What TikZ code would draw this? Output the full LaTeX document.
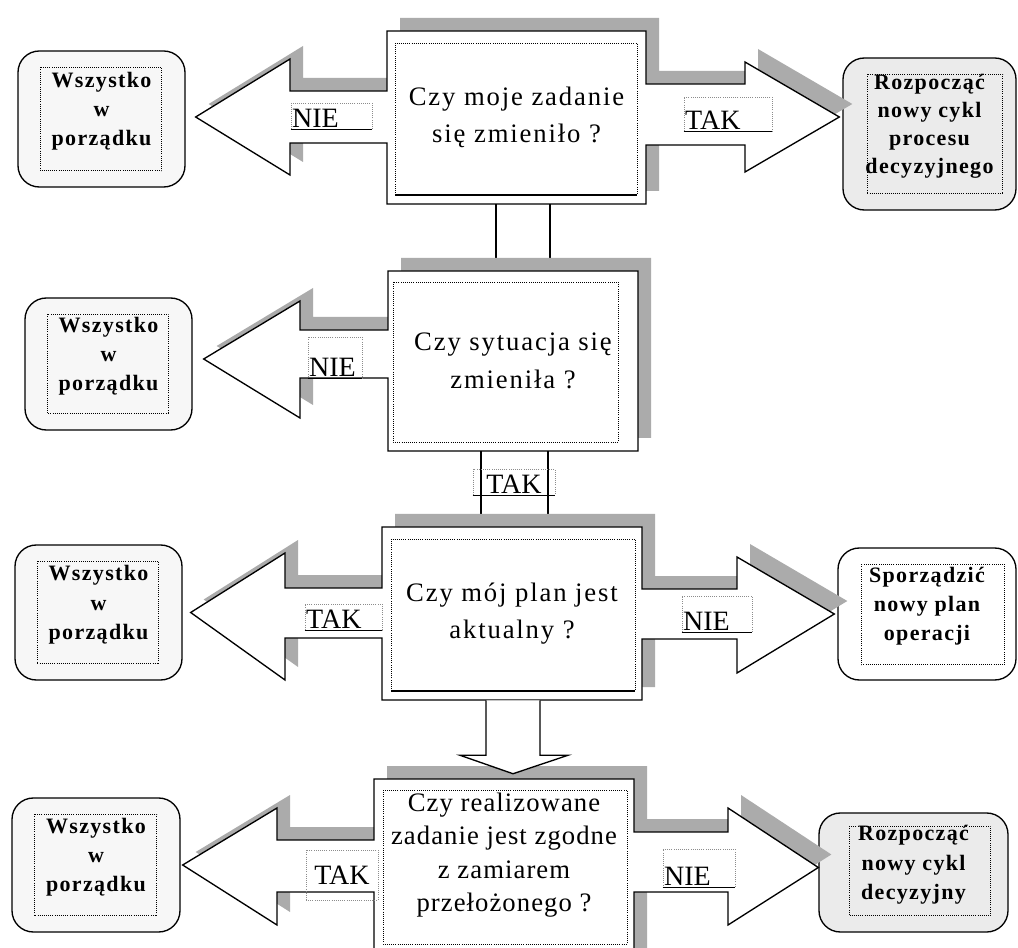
\documentclass[tikz,border=0pt]{standalone}
\usepackage{fontspec}
\setmainfont{Liberation Serif}
\newfontfamily\qfont[LetterSpace=7]{Liberation Serif}
\newfontfamily\qfontb[LetterSpace=4]{Liberation Serif}
\newfontfamily\bxfont[LetterSpace=6]{Liberation Serif}
\usetikzlibrary{
  	positioning,
  	calc,
  	fit,
		shadows
  }
\tikzset{
  qarea/.style={inner sep=0pt},
  qshape/.style={draw,line width=1pt,fill=white,
    drop shadow={shadow xshift=9.75pt,shadow yshift=9.75pt,opacity=1,fill=black!33}},
  qtext/.style={inner sep=0pt,align=center,font=\qfont\fontsize{20}{28}\selectfont},
  okbox/.style={draw,line width=1pt,rounded corners=16pt,inner sep=0pt,fill=black!3,
    align=center,font=\bxfont\bfseries\fontsize{16.5}{22}\selectfont},
  indot/.style={densely dotted,line width=0.6pt},
  lblframe/.style={draw=black!45,densely dotted,line width=0.6pt,inner sep=0pt},
  lbltxt/.style={inner sep=1pt,font=\fontsize{21}{24}\selectfont},
  uline/.style={line width=1pt},
  conn/.style={line width=1pt}
}

\begin{document}
\begin{tikzpicture}[x=0.75pt,y=-0.75pt]
    \useasboundingbox (0,0) rectangle (1018,948);
    % question areas (anchors only)
    \node[qarea,fit={(387,31) (646,204)}] (q1) {};
    \node[qarea,fit={(388,271) (638,451)}] (q2) {};
    \node[qarea,fit={(382,527) (642,700)}] (q3) {};
    \node[qarea,fit={(374,779) (634,931)}] (q4) {};

    % outcome boxes
    \node[okbox,fit={(18,51) (185,187)}] (ok1) {Wszystko\\w\\porządku};
    \node[okbox,fit={(25,298) (192,430)}] (ok2) {Wszystko\\w\\porządku};
    \node[okbox,fit={(15,545) (182,680)}] (ok3) {Wszystko\\w\\porządku};
    \node[okbox,fit={(12,798) (180,932)}] (ok4) {Wszystko\\w\\porządku};
    \node[okbox,fill=black!8,font=\bxfont\bfseries\fontsize{16.5}{21}\selectfont,
      fit={(843,58) (1016,210)}] (new1) {Rozpocząć\\nowy cykl\\procesu\\decyzyjnego};
    \node[okbox,fill=white,fit={(838,548) (1016,680)}] (plan3) {Sporządzić\\nowy plan\\operacji};
    \node[okbox,fill=black!8,fit={(819,813) (1008,932)}] (new4) {Rozpocząć\\nowy cykl\\decyzyjny};
    \foreach \n in {ok1,ok2,ok3,ok4}
      \draw[indot] ($(\n.north west)+(23,17)$) rectangle ($(\n.south east)+(-24,-17)$);
    \draw[indot] ($(new1.north west)+(25,17)$) rectangle ($(new1.south east)+(-14,-17)$);
    \draw[indot] ($(plan3.north west)+(24,17)$) rectangle ($(plan3.south east)+(-12,-16)$);
    \draw[indot] ($(new4.north west)+(31,14)$) rectangle ($(new4.south east)+(-18,-17)$);

    % arrow tips
    \coordinate (t1l) at ($(ok1.east)+(10,-2)$);
    \coordinate (t1r) at ($(new1.west)+(-3,-17)$);
    \coordinate (t2l) at ($(ok2.east)+(11,-5)$);
    \coordinate (t3l) at ($(ok3.east)+(8,0)$);
    \coordinate (t3r) at ($(plan3.west)+(-3,0)$);
    \coordinate (t4l) at ($(ok4.east)+(2,0)$);
    \coordinate (t4r) at ($(new4.west)+(0,-5)$);

    % row 1
    \draw[qshape] (387,31) -| (646,84) -| (745,62) -- (t1r) -- (745,172) |- (646,145)
       |- (387,204) |- (290,143) -- (290,175) -- (t1l) -- (290,59) |- (387,91) -- cycle;
    \draw[indot] (395,195) -- (395,43) -- (637,43) -- (637,195);
    \draw[uline] (395,195) -- (637,195);
    \node[qtext] (q1t) at (q1) {Czy moje zadanie\\się zmieniło ?};
    \node[lblframe,fit={(291,103) (372,129)}] (f1l) {};
    \node[lbltxt,anchor=south west] (nie1) at (f1l.south west) {NIE};
    \draw[uline] (f1l.south west) -- (f1l.south east);
    \node[lblframe,fit={(684,97) (772,131)}] (f1r) {};
    \node[lbltxt,anchor=south west] (tak1) at (f1r.south west) {TAK};
    \draw[uline] (f1r.south west) -- (f1r.south east);

    % 1 -> 2
    \coordinate (c12l) at ($(q1.south)+(-20.5,0)$);
    \coordinate (c12r) at ($(q1.south)+(33.5,0)$);
    \draw[conn] (c12l) -- (c12l |- q2.north);
    \draw[conn] (c12r) -- (c12r |- q2.north);

    % row 2
    \draw[qshape] (388,271) -- (638,271) -- (638,451) -- (388,451) |- (300,378)
       -- (300,418) -- (t2l) -- (300,301) |- (388,330) -- cycle;
    \draw[indot] (393,282) rectangle (618,442);
    \node[qtext] (q2t) at (q2) {Czy sytuacja się\\zmieniła ?};
    \node[lblframe,fit={(308,337) (362,378)}] (f2l) {};
    \node[lbltxt,anchor=south west] (nie2) at (f2l.south west) {NIE};
    \draw[uline] (f2l.south west) -- (f2l.south east);

    % 2 -> 3
    \coordinate (c23l) at ($(q2.south)+(-32,0)$);
    \coordinate (c23r) at ($(q2.south)+(35,0)$);
    \draw[conn] (c23l) -- (c23l |- q3.north);
    \draw[conn] (c23r) -- (c23r |- q3.north);
    \node[lblframe,fit={(473,469) (555,495)}] (f23) {};
    \node[lbltxt,anchor=south] (tak23) at (f23.south) {TAK};
    \draw[uline] (f23.south west) -- (f23.south east);

    % row 3
    \draw[qshape] (382,527) -| (642,589) -| (737,557) -- (t3r) -- (737,673) |- (642,639)
       |- (382,700) |- (285,638) -- (285,680) -- (t3l) -- (285,553) |- (382,588) -- cycle;
    \draw[indot] (391,691) -- (391,539) -- (635,539) -- (635,691);
    \draw[uline] (391,691) -- (635,691);
    \node[qtext] (q3t) at (q3) {Czy mój plan jest\\aktualny ?};
    \node[lblframe,fit={(305,604) (382,630)}] (f3l) {};
    \node[lbltxt,anchor=south west] (tak3) at (f3l.south west) {TAK};
    \draw[uline] (f3l.south west) -- (f3l.south east);
    \node[lblframe,fit={(682,596) (752,632)}] (f3r) {};
    \node[lbltxt,anchor=south west] (nie3) at (f3r.south west) {NIE};
    \draw[uline] (f3r.south west) -- (f3r.south east);

    % row 4
    \draw[qshape] (374,779) -| (634,832) -| (728,808) -- (t4r) -- (728,925) |- (634,892)
       -- (634,975) -- (374,975) |- (277,892) -- (277,925) -- (t4l) -- (277,808) |- (374,840) -- cycle;
    \draw[indot] (383,790) rectangle (627,944);
    \node[qtext,font=\qfontb\fontsize{20}{25}\selectfont] (q4t) at (q4)
      {Czy realizowane\\zadanie jest zgodne\\z zamiarem\\przełożonego ?};
    \node[lblframe,fit={(306,850) (378,900)}] (f4l) {};
    \node[lbltxt] (tak4) at (f4l) {TAK};
    \node[lblframe,fit={(663,849) (735,887)}] (f4r) {};
    \node[lbltxt,anchor=south west] (nie4) at (f4r.south west) {NIE};
    \draw[uline] (f4r.south west) -- (f4r.south east);

    % 3 -> 4
    \coordinate (c34l) at ($(q3.south)+(-26,0)$);
    \coordinate (c34r) at ($(q3.south)+(28,0)$);
    \coordinate (c34tip) at ($(q4.north)+(9,-5)$);
    \draw[conn,fill=white] (c34l) -- ++(0,55) -- ++(-26,0) -- (c34tip)
       -- ($(c34r)+(28,55)$) -- ($(c34r)+(0,55)$) -- (c34r);
  \end{tikzpicture}
\end{document}
